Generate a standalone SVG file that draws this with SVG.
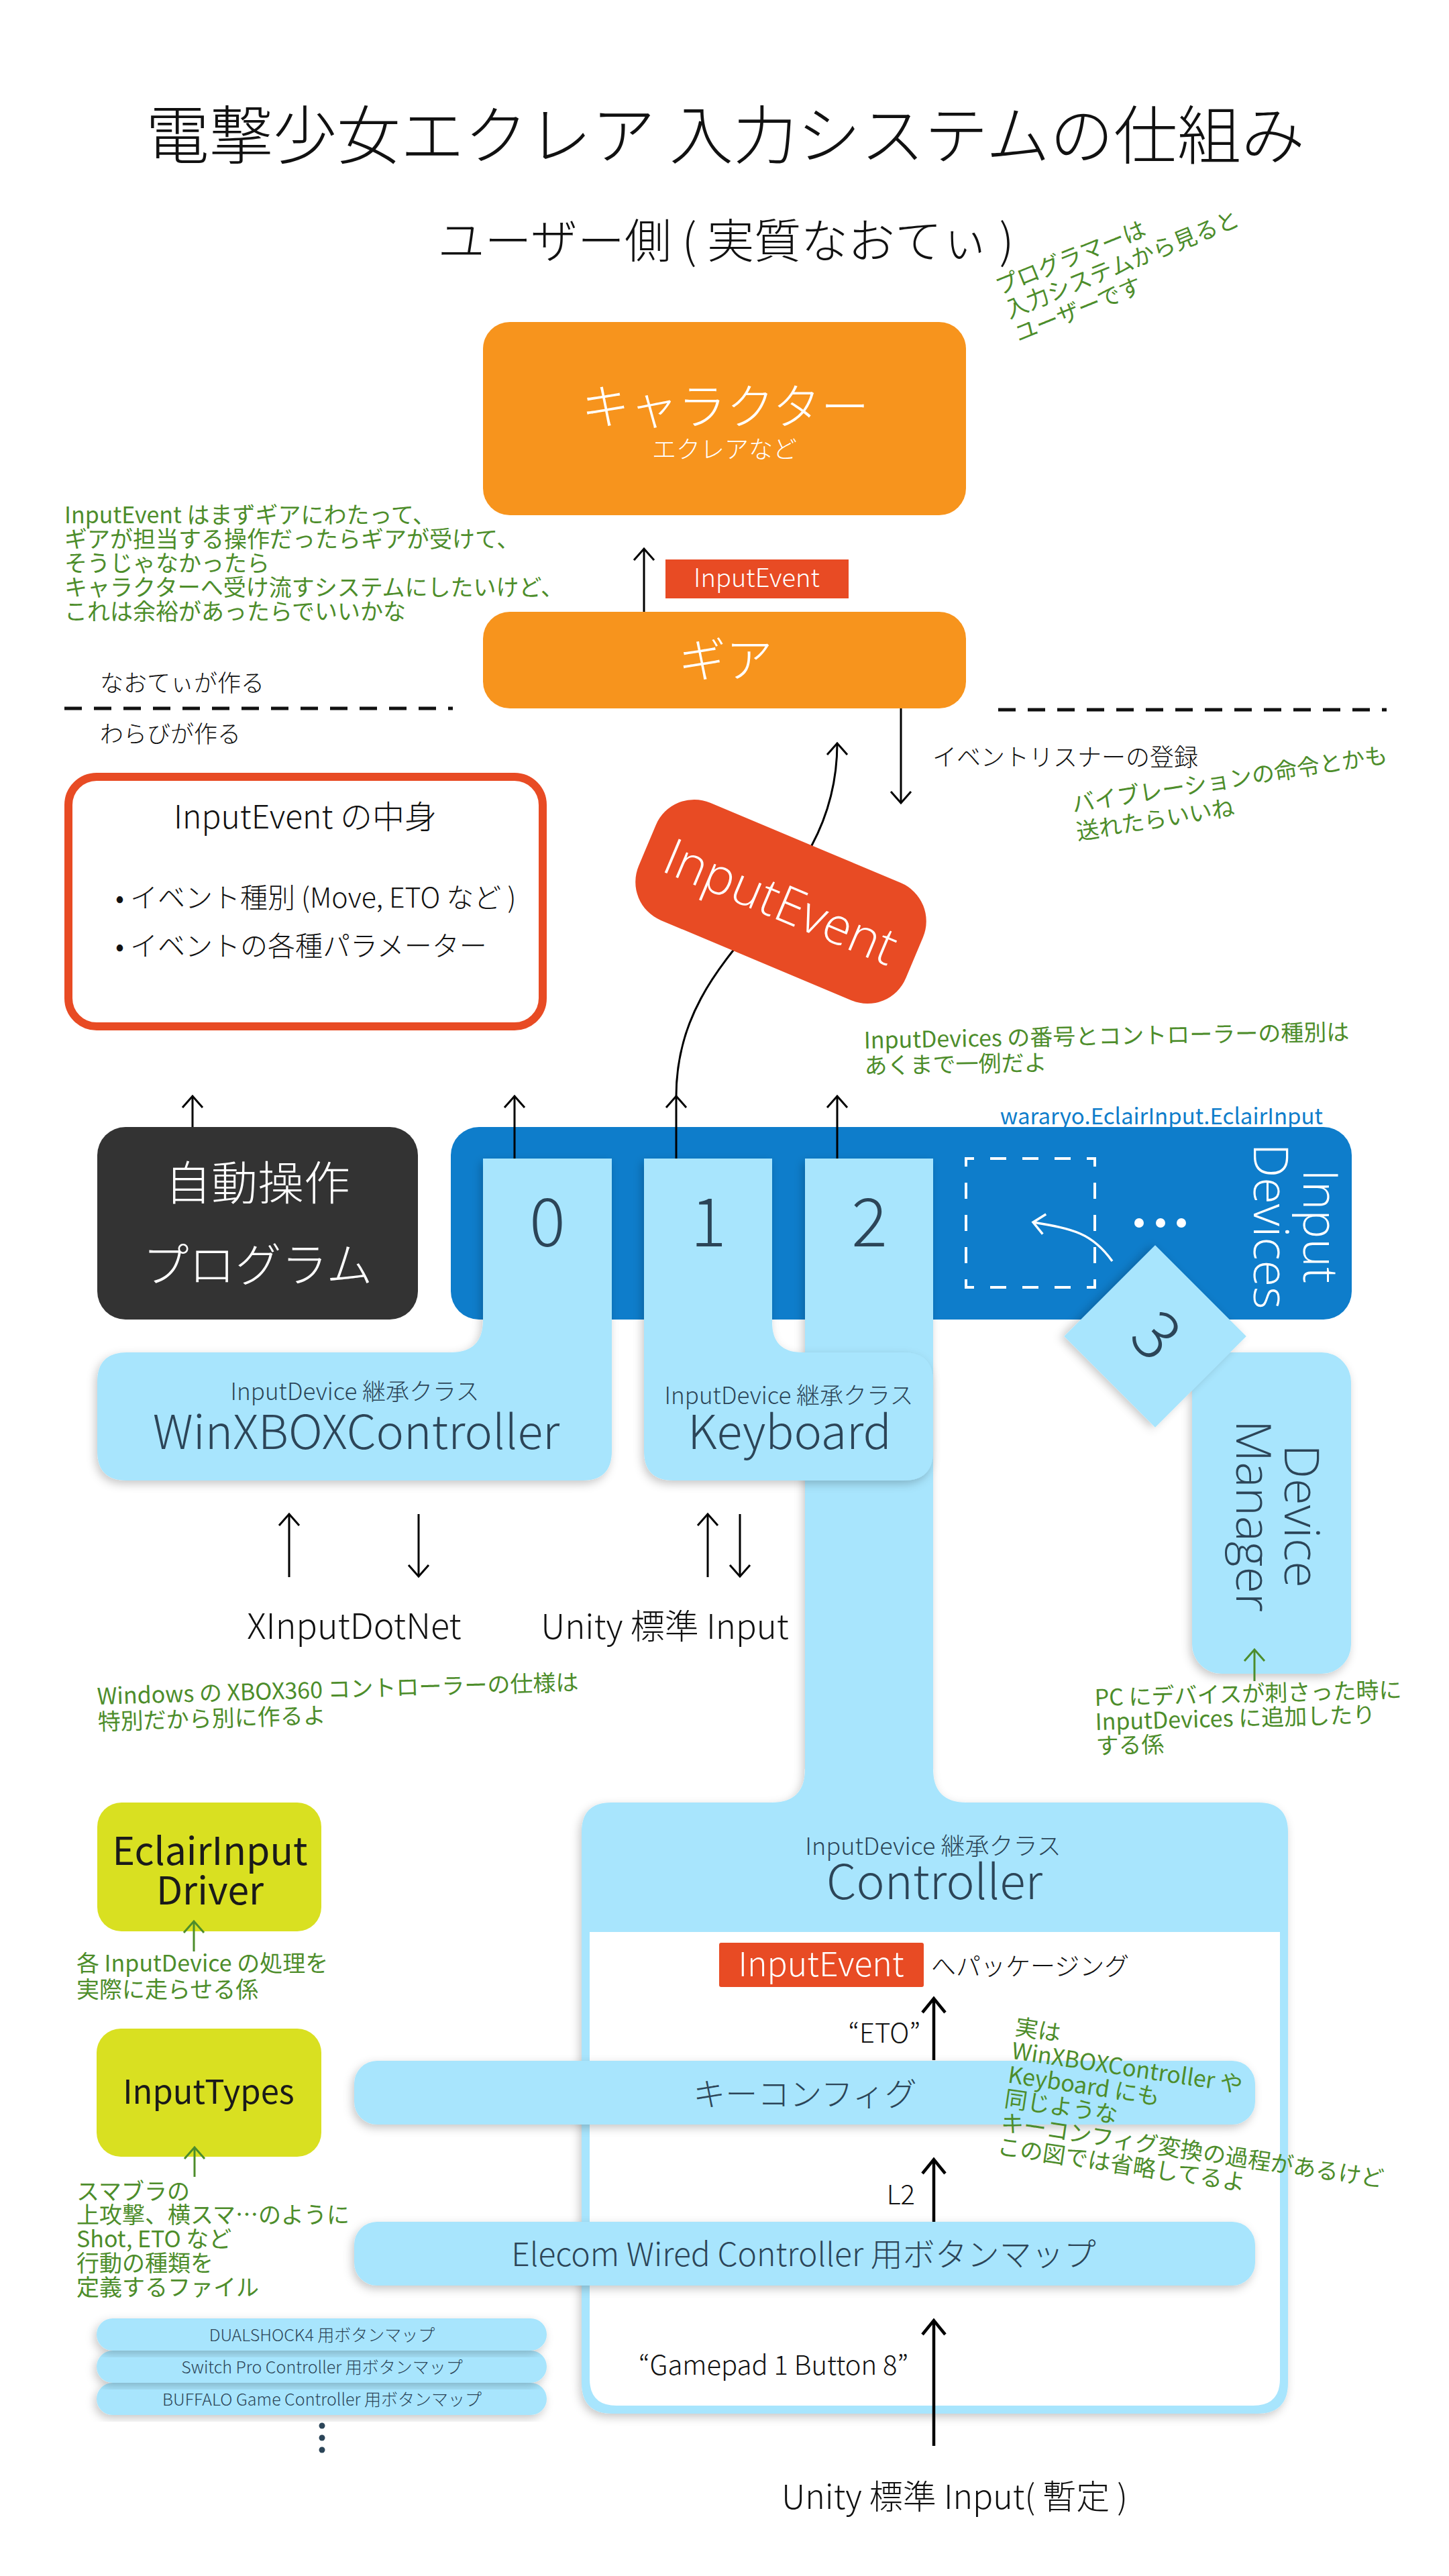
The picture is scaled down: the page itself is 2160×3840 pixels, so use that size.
<svg xmlns="http://www.w3.org/2000/svg" width="2160" height="3840" viewBox="0 0 2160 3840">
<defs>
<style>
text{font-family:"Noto Sans CJK JP","Noto Sans",sans-serif;}
.k{fill:#111;font-weight:300}
.w{fill:#fff}
.g{fill:#4D8D2B;font-size:34px}
.s{fill:#2C4558}
.c{text-anchor:middle}
.e{text-anchor:end}
.geo{font-family:"Open Sans","Noto Sans",sans-serif;font-weight:300}
.ln{stroke:#000;stroke-width:3;fill:none}
.lnb{stroke:#000;stroke-width:4.5;fill:none}
.gl{stroke:#4D8D2B;stroke-width:3;fill:none}
.lb{fill:#A8E5FD}
.sh{filter:url(#sh)}
</style>
<filter id="sh" x="-20%" y="-20%" width="140%" height="140%"><feDropShadow dx="-3" dy="5" stdDeviation="7" flood-color="#000" flood-opacity="0.22"/></filter>
<marker id="a" viewBox="-25 -25 50 50" refX="0" refY="0" markerWidth="50" markerHeight="50" markerUnits="userSpaceOnUse" orient="auto"><path d="M-17,-15 L0,0 L-17,15" fill="none" stroke="#000" stroke-width="3"/></marker>
<marker id="ab" viewBox="-25 -25 50 50" refX="0" refY="0" markerWidth="50" markerHeight="50" markerUnits="userSpaceOnUse" orient="auto"><path d="M-21,-17 L0,0 L-21,17" fill="none" stroke="#000" stroke-width="4.5"/></marker>
<marker id="ag" viewBox="-25 -25 50 50" refX="0" refY="0" markerWidth="50" markerHeight="50" markerUnits="userSpaceOnUse" orient="auto"><path d="M-17,-15 L0,0 L-17,15" fill="none" stroke="#4D8D2B" stroke-width="3"/></marker>
<marker id="aw" viewBox="-25 -25 50 50" refX="0" refY="0" markerWidth="50" markerHeight="50" markerUnits="userSpaceOnUse" orient="auto"><path d="M-17,-15 L0,0 L-17,15" fill="none" stroke="#fff" stroke-width="3.5"/></marker>
</defs>
<rect width="2160" height="3840" fill="#fff"/>

<g id="titles">
<text class="k c" x="1081" y="237" font-size="95">電撃少女エクレア 入力システムの仕組み</text>
<text class="k c" x="1082" y="385" font-size="70">ユーザー側 ( 実質なおてぃ )</text>
</g>

<g id="note-user" transform="translate(1490,440) rotate(-22)">
<text class="g"><tspan x="0" y="0">プログラマーは</tspan><tspan x="0" y="38">入力システムから見ると</tspan><tspan x="0" y="76">ユーザーです</tspan></text>
</g>

<g id="character">
<rect x="720" y="480" width="720" height="288" rx="40" fill="#F7941D"/>
<text class="w c" x="1081" y="632" font-size="72" font-weight="300">キャラクター</text>
<text class="w c" x="1080" y="683" font-size="36" font-weight="300">エクレアなど</text>
</g>

<g id="gear">
<rect x="720" y="912" width="720" height="144" rx="40" fill="#F7941D"/>
<text class="w c" x="1082" y="1010" font-size="70" font-weight="300">ギア</text>
</g>

<g id="label-gear-event">
<rect x="992" y="834" width="273" height="58" fill="#E84B24"/>
<text class="w c" x="1128" y="875" font-size="38" font-weight="300">InputEvent</text>
</g>

<g id="note-gear">
<text class="g"><tspan x="96" y="780">InputEvent はまずギアにわたって、</tspan><tspan x="96" y="816">ギアが担当する操作だったらギアが受けて、</tspan><tspan x="96" y="852">そうじゃなかったら</tspan><tspan x="96" y="888">キャラクターへ受け流すシステムにしたいけど、</tspan><tspan x="96" y="924">これは余裕があったらでいいかな</tspan></text>
</g>

<g id="divider">
<text class="k" x="149" y="1031" font-size="35">なおてぃが作る</text>
<text class="k" x="149" y="1107" font-size="35">わらびが作る</text>
<line x1="96" y1="1056" x2="675" y2="1056" stroke="#111" stroke-width="5" stroke-dasharray="26 18"/>
<line x1="1488" y1="1058" x2="2067" y2="1058" stroke="#111" stroke-width="5" stroke-dasharray="26 18"/>
</g>

<g id="listener-label">
<text class="k" x="1390" y="1142" font-size="36">イベントリスナーの登録</text>
</g>

<g id="note-vibration" transform="translate(1600,1211) rotate(-9)">
<text class="g"><tspan x="0" y="0">バイブレーションの命令とかも</tspan><tspan x="0" y="42">送れたらいいね</tspan></text>
</g>

<g id="event-contents">
<rect x="102" y="1158" width="707" height="372" rx="42" fill="#fff" stroke="#E84B24" stroke-width="12"/>
<text class="k c" x="455" y="1235" font-size="48">InputEvent の中身</text>
<text class="k" x="172" y="1353" font-size="41">• イベント種別 (Move, ETO など )</text>
<text class="k" x="172" y="1425" font-size="41">• イベントの各種パラメーター</text>
</g>

<g id="note-devices" transform="translate(1288,1563) rotate(-1)">
<text class="g"><tspan x="0" y="0">InputDevices の番号とコントローラーの種別は</tspan><tspan x="0" y="38">あくまで一例だよ</tspan></text>
</g>

<g id="input-devices">
<text x="1972" y="1676" font-size="33" fill="#0E7DCB" text-anchor="end">wararyo.EclairInput.EclairInput</text>
<rect x="672" y="1680" width="1343" height="287" rx="42" fill="#0E7DCB"/>
<rect x="1440" y="1727" width="192" height="192" fill="none" stroke="#fff" stroke-width="4" stroke-dasharray="24 24" stroke-dashoffset="12"/>
<path d="M1658,1880 C1628,1838 1600,1832 1540,1822" fill="none" stroke="#fff" stroke-width="3.5" marker-end="url(#aw)"/>
<circle cx="1698" cy="1823" r="7" fill="#fff"/>
<circle cx="1730" cy="1823" r="7" fill="#fff"/>
<circle cx="1761" cy="1823" r="7" fill="#fff"/>
<g transform="translate(1943,1828) rotate(90)">
<text class="w geo c" x="0" y="0" font-size="72">Input</text>
<text class="w geo c" x="0" y="74" font-size="72">Devices</text>
</g>
</g>

<g id="auto-program">
<rect x="145" y="1680" width="478" height="287" rx="42" fill="#333"/>
<text class="w c" x="384" y="1789" font-size="69" font-weight="300">自動操作</text>
<text class="w c" x="384" y="1911" font-size="69" font-weight="300">プログラム</text>
</g>

<g id="controller">
<path class="lb sh" d="M1200,1727 H1391 V2637 Q1391,2687 1441,2687 H1876 Q1920,2687 1920,2731 V3552 Q1920,3598 1874,3598 H913 Q867,3598 867,3552 V2731 Q867,2687 911,2687 H1150 Q1200,2687 1200,2637 Z"/>
<path fill="#fff" d="M879,2880 H1908 V3546 Q1908,3586 1868,3586 H919 Q879,3586 879,3546 Z"/>
<text class="s c" x="1391" y="2765" font-size="36" font-weight="300">InputDevice 継承クラス</text>
<text class="s c" x="1393" y="2831" font-size="71" font-weight="300">Controller</text>
</g>

<g id="keyboard">
<path class="lb sh" d="M960,1727 H1151 V1971 Q1151,2016 1196,2016 H1347 Q1391,2016 1391,2060 V2163 Q1391,2207 1347,2207 H1004 Q960,2207 960,2163 Z"/>
<text class="s c" x="1176" y="2093" font-size="35" font-weight="300">InputDevice 継承クラス</text>
<text class="s c" x="1177" y="2160" font-size="70" font-weight="300">Keyboard</text>
</g>

<g id="winxbox">
<path class="lb sh" d="M720,1727 H912 V2163 Q912,2207 868,2207 H189 Q145,2207 145,2163 V2060 Q145,2016 189,2016 H672 Q720,2016 720,1968 Z"/>
<text class="s c" x="529" y="2087" font-size="35" font-weight="300">InputDevice 継承クラス</text>
<text class="s c" x="531" y="2160" font-size="70" font-weight="300">WinXBOXController</text>
</g>

<g id="slot-numbers">
<text class="s c" x="816" y="1858" font-size="100" font-weight="300">0</text>
<text class="s c" x="1056" y="1858" font-size="100" font-weight="300">1</text>
<text class="s c" x="1296" y="1858" font-size="100" font-weight="300">2</text>
</g>

<g id="device-manager">
<rect class="lb sh" x="1777" y="2016" width="237" height="479" rx="44"/>
<g transform="translate(1915,2260) rotate(90)">
<text class="s geo c" x="0" y="0" font-size="72">Device</text>
<text class="s geo c" x="0" y="72" font-size="72">Manager</text>
</g>
</g>

<g id="slot-3" transform="translate(1722,1992) rotate(45)">
<rect class="lb sh" x="-96" y="-96" width="192" height="192"/>
<text class="s c" x="0" y="33" font-size="100" font-weight="300">3</text>
</g>

<g id="sources">
<text class="k c" x="528" y="2443" font-size="52">XInputDotNet</text>
<text class="k c" x="991" y="2443" font-size="51">Unity 標準 Input</text>
</g>

<g id="note-xbox" transform="translate(145,2541) rotate(-1.7)">
<text class="g"><tspan x="0" y="0">Windows の XBOX360 コントローラーの仕様は</tspan><tspan x="0" y="38">特別だから別に作るよ</tspan></text>
</g>

<g id="note-manager" transform="translate(1632,2543) rotate(-1.5)">
<text class="g"><tspan x="0" y="0">PC にデバイスが刺さった時に</tspan><tspan x="0" y="36">InputDevices に追加したり</tspan><tspan x="0" y="72">する係</tspan></text>
</g>

<g id="driver">
<rect x="145" y="2687" width="334" height="192" rx="36" fill="#D9E021"/>
<text class="c" x="313" y="2780" font-size="57" fill="#1a1a1a">EclairInput</text>
<text class="c" x="313" y="2839" font-size="57" fill="#1a1a1a">Driver</text>
</g>
<g id="note-driver">
<text class="g"><tspan x="114" y="2939">各 InputDevice の処理を</tspan><tspan x="114" y="2978">実際に走らせる係</tspan></text>
</g>

<g id="input-types">
<rect x="144" y="3024" width="335" height="191" rx="36" fill="#D9E021"/>
<text class="c" x="311" y="3136" font-size="49" fill="#1a1a1a">InputTypes</text>
</g>
<g id="note-types">
<text class="g"><tspan x="114" y="3279">スマブラの</tspan><tspan x="114" y="3314">上攻撃、横スマ…のように</tspan><tspan x="114" y="3350">Shot, ETO など</tspan><tspan x="114" y="3386">行動の種類を</tspan><tspan x="114" y="3422">定義するファイル</tspan></text>
</g>

<g id="button-maps">
<rect class="lb sh" x="144" y="3552" width="671" height="48" rx="24"/>
<rect class="lb sh" x="144" y="3504" width="671" height="48" rx="24"/>
<rect class="lb sh" x="144" y="3456" width="671" height="48" rx="24"/>
<text class="s c" x="480" y="3490" font-size="25" font-weight="300">DUALSHOCK4 用ボタンマップ</text>
<text class="s c" x="480" y="3538" font-size="25" font-weight="300">Switch Pro Controller 用ボタンマップ</text>
<text class="s c" x="480" y="3586" font-size="25" font-weight="300">BUFFALO Game Controller 用ボタンマップ</text>
<circle cx="480" cy="3616" r="4.5" fill="#2C4558"/>
<circle cx="480" cy="3634" r="4.5" fill="#2C4558"/>
<circle cx="480" cy="3652" r="4.5" fill="#2C4558"/>
</g>

<g id="controller-inner">
<rect x="1072" y="2896" width="305" height="66" rx="3" fill="#E84B24"/>
<text class="w c" x="1224" y="2946" font-size="50" font-weight="300">InputEvent</text>
<text class="k" x="1388" y="2945" font-size="37">へパッケージング</text>
<rect class="lb sh" x="528" y="3072" width="1343" height="95" rx="34"/>
<text class="s c" x="1200" y="3139" font-size="48" font-weight="300">キーコンフィグ</text>
<rect class="lb sh" x="528" y="3312" width="1343" height="95" rx="34"/>
<text class="s c" x="1198" y="3378" font-size="48" font-weight="300">Elecom Wired Controller 用ボタンマップ</text>
<text class="k e" x="1372" y="3045" font-size="40">“ETO”</text>
<text class="k e" x="1364" y="3286" font-size="40">L2</text>
<text class="k e" x="1354" y="3540" font-size="40">“Gamepad 1 Button 8”</text>
<text class="k c" x="1423" y="3740" font-size="50">Unity 標準 Input( 暫定 )</text>
</g>

<g id="connectors">
<line class="ln" x1="960" y1="912" x2="960" y2="818" marker-end="url(#a)"/>
<line class="ln" x1="1343" y1="1056" x2="1343" y2="1197" marker-end="url(#a)"/>
<path class="ln" d="M1008,1634 C1008,1400 1248,1350 1248,1108" marker-end="url(#a)"/>
<line class="ln" x1="287" y1="1680" x2="287" y2="1634" marker-end="url(#a)"/>
<line class="ln" x1="767" y1="1727" x2="767" y2="1634" marker-end="url(#a)"/>
<line class="ln" x1="1008" y1="1727" x2="1008" y2="1634" marker-end="url(#a)"/>
<line class="ln" x1="1248" y1="1727" x2="1248" y2="1634" marker-end="url(#a)"/>
<line class="ln" x1="431" y1="2351" x2="431" y2="2257" marker-end="url(#a)"/>
<line class="ln" x1="624" y1="2257" x2="624" y2="2350" marker-end="url(#a)"/>
<line class="ln" x1="1055" y1="2351" x2="1055" y2="2257" marker-end="url(#a)"/>
<line class="ln" x1="1103" y1="2257" x2="1103" y2="2350" marker-end="url(#a)"/>
<line class="gl" x1="1870" y1="2506" x2="1870" y2="2459" marker-end="url(#ag)"/>
<line class="gl" x1="289" y1="2909" x2="289" y2="2864" marker-end="url(#ag)"/>
<line class="gl" x1="290" y1="3245" x2="290" y2="3201" marker-end="url(#ag)"/>
<line class="lnb" x1="1392" y1="3071" x2="1392" y2="2979" marker-end="url(#ab)"/>
<line class="lnb" x1="1392" y1="3312" x2="1392" y2="3219" marker-end="url(#ab)"/>
<line class="lnb" x1="1392" y1="3646" x2="1392" y2="3459" marker-end="url(#ab)"/>
</g>

<g id="event-tag" transform="translate(1164,1344) rotate(22.8)">
<rect x="-216" y="-95" width="432" height="190" rx="62" fill="#E84B24"/>
<text class="w geo c" x="0" y="27" font-size="76">InputEvent</text>
</g>

<g id="note-keyconfig" transform="translate(1512,3033) rotate(8.5)">
<text class="g"><tspan x="0" y="0">実は</tspan><tspan x="0" y="36">WinXBOXController や</tspan><tspan x="0" y="72">Keyboard にも</tspan><tspan x="0" y="108">同じような</tspan><tspan x="0" y="144">キーコンフィグ変換の過程があるけど</tspan><tspan x="0" y="180">この図では省略してるよ</tspan></text>
</g>
</svg>
